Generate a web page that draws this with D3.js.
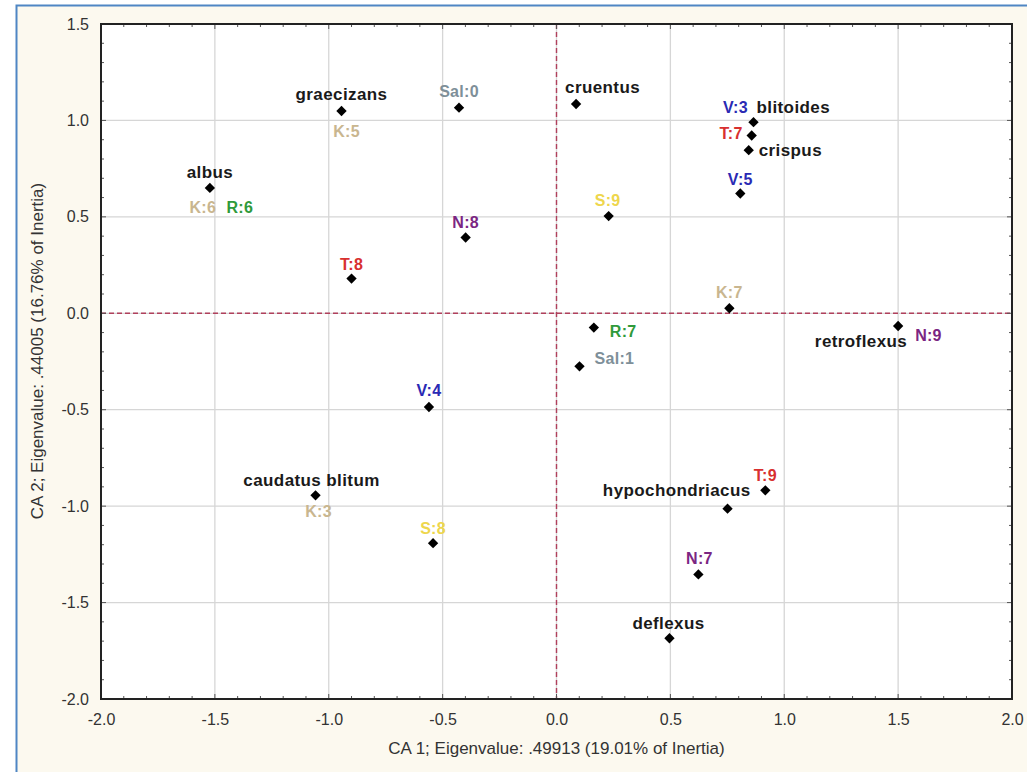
<!DOCTYPE html>
<html>
<head>
<meta charset="utf-8">
<script src="https://cdn.jsdelivr.net/npm/d3@7"></script>
<style>
  html, body { margin: 0; padding: 0; background: #ffffff; }
  svg { display: block; }
  .tick-label { font-family: "Liberation Sans", Arial, sans-serif; font-size: 16px; fill: #333333; }
  .axis-title { font-family: "Liberation Sans", Arial, sans-serif; font-size: 17px; fill: #333333; }
  .species { font-family: "Liberation Sans", Arial, sans-serif; font-size: 17px; font-weight: bold; fill: #1a1a1a; letter-spacing: 0.4px; }
  .group { font-family: "Liberation Sans", Arial, sans-serif; font-size: 16px; font-weight: bold; letter-spacing: 0.3px; }
</style>
</head>
<body>
<script>
// Correspondence analysis coordinates (dimension 1 and 2) for each plotted point
const ca1 = [-0.944, -0.428, -1.522, -0.399, -0.900, 0.086, 0.865, 0.857, 0.844, 0.807, 0.229,
             0.759, 0.164, 1.500, 0.101, -0.560, -1.058, -0.542, 0.917, 0.751, 0.623, 0.496];
const ca2 = [1.049, 1.066, 0.650, 0.393, 0.180, 1.085, 0.991, 0.922, 0.846, 0.621, 0.504,
             0.026, -0.074, -0.066, -0.275, -0.486, -0.944, -1.192, -0.918, -1.013, -1.354, -1.685];
// Species (Amaranthus) names attached to a point, "" where none
const speciesNames = ["graecizans", "", "albus", "", "", "cruentus", "blitoides", "", "crispus", "", "",
                      "", "", "retroflexus", "", "", "caudatus blitum", "", "", "hypochondriacus", "", "deflexus"];
// Ecological indicator classes attached to a point
const groupCodes = [["K:5"], ["Sal:0"], ["K:6", "R:6"], ["N:8"], ["T:8"], [], ["V:3"], ["T:7"], [], ["V:5"], ["S:9"],
                    ["K:7"], ["R:7"], ["N:9"], ["Sal:1"], ["V:4"], ["K:3"], ["S:8"], ["T:9"], [], ["N:7"], []];

const xTicks = [-2.0, -1.5, -1.0, -0.5, 0.0, 0.5, 1.0, 1.5, 2.0];
const yTicks = [-2.0, -1.5, -1.0, -0.5, 0.0, 0.5, 1.0, 1.5];
const xTitle = "CA 1; Eigenvalue: .49913 (19.01% of Inertia)";
const yTitle = "CA 2; Eigenvalue: .44005 (16.76% of Inertia)";

// Colour per indicator prefix
const groupColor = { K: "#c9b68f", R: "#2f9a3b", Sal: "#7e8f99", N: "#7b2682", T: "#d8302f", V: "#2a2ab4", S: "#eed64c" };

// Label placement relative to its point: [dx, dy (baseline), anchor]
const labelPlacement = {
  "graecizans": [0, -11, "middle"], "K:5": [5, 26, "middle"], "Sal:0": [0, -11, "middle"],
  "albus": [0, -9.5, "middle"], "K:6": [-7, 25, "middle"], "R:6": [30, 25, "middle"],
  "N:8": [0, -9, "middle"], "T:8": [0, -9, "middle"], "cruentus": [-11, -11, "start"],
  "V:3": [-18, -9, "middle"], "blitoides": [3, -9, "start"], "T:7": [-9, 3.5, "end"],
  "crispus": [10, 6, "start"], "V:5": [0, -9, "middle"], "S:9": [-1, -10, "middle"],
  "K:7": [0, -10, "middle"], "R:7": [16, 9, "start"], "retroflexus": [9, 21, "end"],
  "N:9": [17, 15, "start"], "Sal:1": [15, -2, "start"], "V:4": [0, -11.5, "middle"],
  "caudatus blitum": [-4, -9, "middle"], "K:3": [3, 22, "middle"], "S:8": [0, -9.5, "middle"],
  "T:9": [0, -9, "middle"], "hypochondriacus": [23, -13, "end"], "N:7": [1, -10.5, "middle"],
  "deflexus": [-1, -9.5, "middle"]
};

const W = 1027, H = 772;
const plot = { left: 101, right: 1012, top: 24, bottom: 699 };

const svg = d3.select("body").append("svg").attr("width", W).attr("height", H);

// Window background with blue frame
svg.append("rect").attr("x", 17).attr("y", 6).attr("width", W - 17).attr("height", H - 6).attr("fill", "#fcf9ef");
svg.append("path").attr("d", `M16.5,${H} V5.5 H${W}`).attr("fill", "none").attr("stroke", "#4f86c4").attr("stroke-width", 2);

const x = d3.scaleLinear().domain([-2, 2]).range([plot.left, plot.right]);
const y = d3.scaleLinear().domain([-2, 1.5]).range([plot.bottom, plot.top]);

// Plot area
svg.append("rect").attr("x", plot.left).attr("y", plot.top)
  .attr("width", plot.right - plot.left).attr("height", plot.bottom - plot.top).attr("fill", "#ffffff");

// Grid
const grid = svg.append("g").attr("stroke", "#d6d6d6").attr("stroke-width", 1.3);
grid.selectAll("line.gx").data(xTicks.slice(1, -1)).join("line")
  .attr("x1", d => x(d)).attr("x2", d => x(d)).attr("y1", plot.top).attr("y2", plot.bottom);
grid.selectAll("line.gy").data(yTicks.slice(1, -1)).join("line")
  .attr("y1", d => y(d)).attr("y2", d => y(d)).attr("x1", plot.left).attr("x2", plot.right);

// Origin reference lines
const ref = svg.append("g").attr("stroke", "#b0405c").attr("stroke-width", 1.4).attr("stroke-dasharray", "5,3");
ref.append("line").attr("x1", plot.left).attr("x2", plot.right).attr("y1", y(0)).attr("y2", y(0));
ref.append("line").attr("x1", x(0)).attr("x2", x(0)).attr("y1", plot.top).attr("y2", plot.bottom);

// Inward ticks on all four sides (minor every 0.1, major every 0.5)
const tickG = svg.append("g").attr("stroke", "#555555").attr("stroke-width", 1);
const xMinor = x.ticks(40), yMinor = y.ticks(35);
const isMajor = v => Math.abs(v * 2 - Math.round(v * 2)) < 1e-6;
xMinor.forEach(v => {
  const len = isMajor(v) ? 5 : 3;
  tickG.append("line").attr("x1", x(v)).attr("x2", x(v)).attr("y1", plot.bottom).attr("y2", plot.bottom - len);
  tickG.append("line").attr("x1", x(v)).attr("x2", x(v)).attr("y1", plot.top).attr("y2", plot.top + len);
});
yMinor.forEach(v => {
  const len = isMajor(v) ? 5 : 3;
  tickG.append("line").attr("y1", y(v)).attr("y2", y(v)).attr("x1", plot.left).attr("x2", plot.left + len);
  tickG.append("line").attr("y1", y(v)).attr("y2", y(v)).attr("x1", plot.right).attr("x2", plot.right - len);
});

// Frame
svg.append("rect").attr("x", plot.left).attr("y", plot.top)
  .attr("width", plot.right - plot.left).attr("height", plot.bottom - plot.top)
  .attr("fill", "none").attr("stroke", "#222222").attr("stroke-width", 2);

// Axis labels
const fmt = v => v.toFixed(1);
const xAxis = svg.append("g").attr("transform", `translate(0,${plot.bottom})`)
  .call(d3.axisBottom(x).tickValues(xTicks).tickFormat(fmt).tickSize(0).tickPadding(15));
const yAxis = svg.append("g").attr("transform", `translate(${plot.left},0)`)
  .call(d3.axisLeft(y).tickValues(yTicks).tickFormat(fmt).tickSize(0).tickPadding(12));
[xAxis, yAxis].forEach(a => {
  a.select(".domain").remove();
  a.selectAll("text").attr("class", "tick-label").attr("fill", null).attr("font-family", null).attr("font-size", null);
  a.attr("font-family", null).attr("font-size", null);
});

svg.append("text").attr("class", "axis-title").attr("text-anchor", "middle")
  .attr("x", (plot.left + plot.right) / 2).attr("y", 754).text(xTitle);
svg.append("text").attr("class", "axis-title").attr("text-anchor", "middle")
  .attr("transform", `translate(43,351) rotate(-90)`).text(yTitle);

// Points and labels
const points = ca1.map((v, i) => ({ cx: v, cy: ca2[i], species: speciesNames[i], groups: groupCodes[i] }));

const labelG = svg.append("g");
points.forEach(p => {
  const px = x(p.cx), py = y(p.cy);
  if (p.species) {
    const [dx, dy, anchor] = labelPlacement[p.species];
    labelG.append("text").attr("class", "species").attr("x", px + dx).attr("y", py + dy)
      .attr("text-anchor", anchor).text(p.species);
  }
  p.groups.forEach(g => {
    const [dx, dy, anchor] = labelPlacement[g];
    labelG.append("text").attr("class", "group").attr("x", px + dx).attr("y", py + dy)
      .attr("text-anchor", anchor).attr("fill", groupColor[g.split(":")[0]]).text(g);
  });
});

svg.append("g").selectAll("path").data(points).join("path")
  .attr("transform", d => `translate(${x(d.cx)},${y(d.cy)})`)
  .attr("d", d3.symbol(d3.symbolDiamond2, 68))
  .attr("fill", "#000000");
</script>
</body>
</html>
